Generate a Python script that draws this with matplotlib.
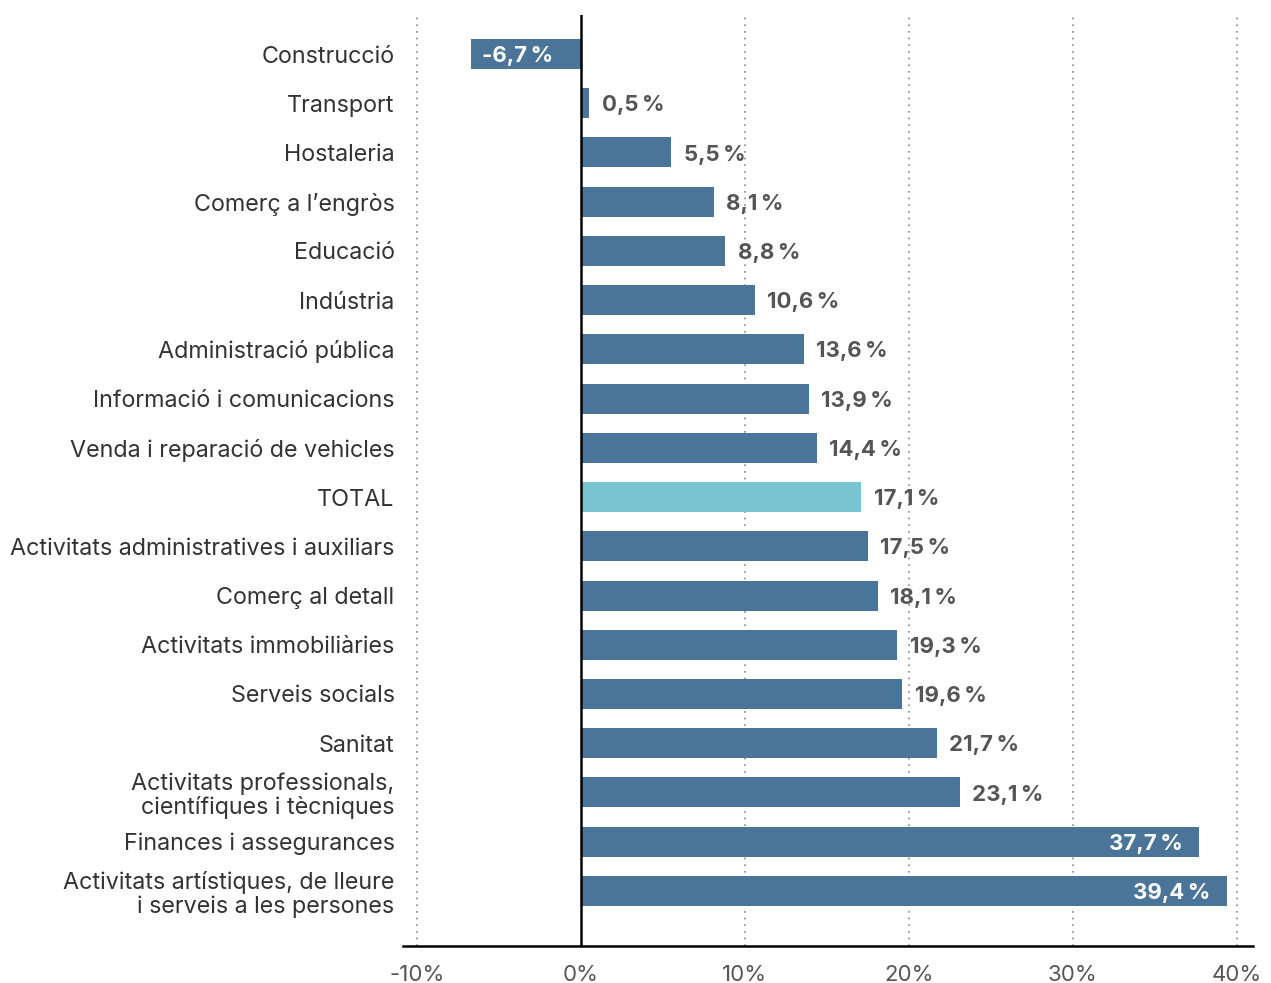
import numpy as np
import matplotlib.pyplot as plt

plt.rcParams['font.family'] = ['Inter', 'DejaVu Sans']

sectors = ['Construcció', 'Transport', 'Hostaleria', 'Comerç a l’engròs', 'Educació',
           'Indústria', 'Administració pública', 'Informació i comunicacions',
           'Venda i reparació de vehicles', 'TOTAL', 'Activitats administratives i auxiliars',
           'Comerç al detall', 'Activitats immobiliàries', 'Serveis socials', 'Sanitat',
           'Activitats professionals,\ncientífiques i tècniques', 'Finances i assegurances',
           'Activitats artístiques, de lleure\ni serveis a les persones']
values = [-6.7, 0.5, 5.5, 8.1, 8.8, 10.6, 13.6, 13.9, 14.4, 17.1, 17.5, 18.1,
          19.3, 19.6, 21.7, 23.1, 37.7, 39.4]
ticks = [-10, 0, 10, 20, 30, 40]

blue = '#4a7599'
total_col = '#79c4d1'
grey = '#555555'

fig = plt.figure(figsize=(12.71, 9.83), dpi=100)
ax = fig.add_axes([0.317, 0.0376, 0.669, 0.947])

y = np.arange(len(sectors))
colors = [total_col if s == 'TOTAL' else blue for s in sectors]
ax.barh(y, values, height=0.61, color=colors, zorder=2)

for xt in ticks:
    if xt != 0:
        ax.axvline(xt, color='#888888', linestyle=(0, (1, 3)), linewidth=1.2, zorder=1)
ax.axvline(0, color='black', linewidth=1.8, zorder=3)

ax.set_xlim(-10.85, 41)
ax.set_ylim(18.12, -0.79)
ax.set_xticks(ticks)
ax.set_xticklabels([f'{t}%' for t in ticks], fontsize=16, color=grey)
ax.set_yticks(y)
ax.set_yticklabels(sectors, fontsize=16.8, color='#333333', linespacing=1.1)
ax.tick_params(axis='both', length=0)
ax.tick_params(axis='y', pad=6)
ax.tick_params(axis='x', pad=14)

for s in ['top', 'right', 'left']:
    ax.spines[s].set_visible(False)
ax.spines['bottom'].set_linewidth(1.8)

for yi, v in zip(y, values):
    txt = f'{v:.1f}'.replace('.', ',') + '\u2009%'
    if v < 0:
        ax.annotate(txt, (v, yi), xytext=(8, -1.5), textcoords='offset points',
                    ha='left', va='center', color='white', fontsize=16,
                    fontweight='bold', zorder=4)
    elif v > 30:
        ax.annotate(txt, (v, yi), xytext=(-12, -1.5), textcoords='offset points',
                    ha='right', va='center', color='white', fontsize=16,
                    fontweight='bold', zorder=4)
    else:
        ax.annotate(txt, (v, yi), xytext=(9, -1.5), textcoords='offset points',
                    ha='left', va='center', color=grey, fontsize=16,
                    fontweight='bold', zorder=4)

fig.savefig('out.png', dpi=100)
